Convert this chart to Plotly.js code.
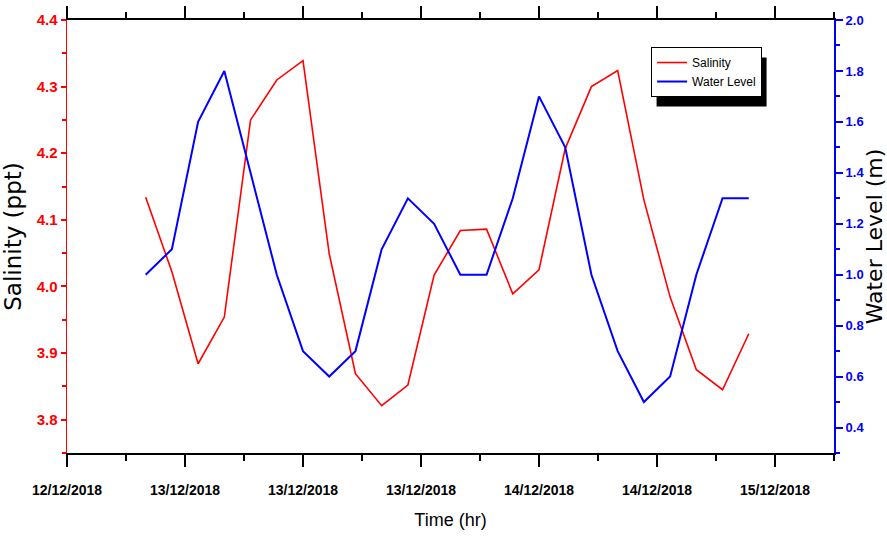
<!DOCTYPE html>
<html>
<head>
<meta charset="utf-8">
<script src="https://cdn.plot.ly/plotly-3.0.1.min.js"></script>
<style>html,body{margin:0;padding:0;background:#fff;}#chart{width:887px;height:547px;}</style>
</head>
<body>
<div id="chart"></div>
<script>
// Time in hours from the start of the axis (12/12/2018)
const timeHours = [9, 12, 15, 18, 21, 24, 27, 30, 33, 36, 39, 42, 45, 48, 51, 54, 57, 60, 63, 66, 69, 72, 75, 78];
const salinity = [4.134, 4.022, 3.884, 3.954, 4.250, 4.310, 4.339, 4.049, 3.869, 3.821, 3.852, 4.017,
                  4.084, 4.086, 3.989, 4.025, 4.207, 4.300, 4.324, 4.130, 3.984, 3.875, 3.845, 3.929];
const waterLevel = [1.0, 1.1, 1.6, 1.8, 1.4, 1.0, 0.7, 0.6, 0.7, 1.1, 1.3, 1.2,
                    1.0, 1.0, 1.3, 1.7, 1.5, 1.0, 0.7, 0.5, 0.6, 1.0, 1.3, 1.3];
const xTickVals = [0, 13.5, 27, 40.5, 54, 67.5, 81];
const xTickText = ['12/12/2018', '13/12/2018', '13/12/2018', '13/12/2018', '14/12/2018', '14/12/2018', '15/12/2018'];

const narrow = '"Liberation Sans Narrow", "Arial Narrow", "Liberation Sans", Arial, sans-serif';
const wide = '"DejaVu Sans", Verdana, sans-serif';

const traces = [
  {x: timeHours, y: salinity, name: 'Salinity', type: 'scatter', mode: 'lines',
   line: {color: '#ff0000', width: 1.6}, yaxis: 'y'},
  {x: timeHours, y: waterLevel, name: 'Water Level', type: 'scatter', mode: 'lines',
   line: {color: '#0000ff', width: 2}, yaxis: 'y2'}
];

const layout = {
  width: 887, height: 547,
  margin: {l: 67, r: 53, t: 20, b: 94},
  paper_bgcolor: '#ffffff', plot_bgcolor: '#ffffff',
  showlegend: true,
  legend: {x: 0.7615, y: 0.9376, xanchor: 'left', yanchor: 'top',
           bgcolor: '#ffffff', bordercolor: '#000000', borderwidth: 1,
           font: {family: narrow, size: 12, color: '#000'},
           tracegroupgap: 0, itemwidth: 30},
  xaxis: {
    range: [0, 87.75], tickmode: 'array', tickvals: xTickVals, ticktext: xTickText,
    showgrid: false, zeroline: false,
    showline: true, linecolor: '#000', linewidth: 2, mirror: 'ticks',
    ticks: 'outside', ticklen: 12, tickwidth: 1.5, tickcolor: '#000',
    ticklabelstandoff: 11,
    minor: {tickmode: 'linear', tick0: 0, dtick: 6.75, ticks: 'outside', ticklen: 6, tickcolor: '#000', tickwidth: 1.5},
    tickfont: {family: narrow, size: 14, color: '#000', weight: 'bold'},
    title: {text: 'Time (hr)', font: {family: narrow, size: 18, color: '#000'}, standoff: 17}
  },
  yaxis: {
    range: [3.75, 4.4], tickmode: 'linear', tick0: 3.8, dtick: 0.1, tickformat: '.1f',
    showgrid: false, zeroline: false,
    showline: true, linecolor: '#ff0000', linewidth: 1.5,
    ticks: 'outside', ticklen: 5, tickwidth: 2, tickcolor: '#ff0000',
    minor: {tickmode: 'linear', tick0: 3.75, dtick: 0.05, ticks: 'outside', ticklen: 4, tickcolor: '#ff0000', tickwidth: 2},
    tickfont: {family: narrow, size: 15, color: '#ff0000', weight: 'bold'},
    title: {text: 'Salinity (ppt)', font: {family: wide, size: 23, color: '#000'}, standoff: 8}
  },
  yaxis2: {
    range: [0.3, 2.0], overlaying: 'y', side: 'right',
    tickmode: 'linear', tick0: 0.4, dtick: 0.2, tickformat: '.1f',
    showgrid: false, zeroline: false,
    showline: true, linecolor: '#0000ff', linewidth: 2,
    ticks: 'outside', ticklen: 7, tickwidth: 2, tickcolor: '#0000ff',
    minor: {tickmode: 'linear', tick0: 0.3, dtick: 0.1, ticks: 'outside', ticklen: 4, tickcolor: '#0000ff', tickwidth: 2},
    tickfont: {family: narrow, size: 13, color: '#0000ff', weight: 'bold'},
    title: {text: 'Water Level (m)', font: {family: wide, size: 22, color: '#000'}, standoff: 3}
  },
  shapes: []
};

Plotly.newPlot('chart', traces, layout, {displayModeBar: false, staticPlot: true}).then(function (gd) {
  // drop shadow behind the legend box (offset right and down)
  const bg = gd.querySelector('.legend .bg');
  if (!bg) return;
  const r = bg.getBoundingClientRect();
  const c = gd.getBoundingClientRect();
  const s = gd._fullLayout._size;
  const left = r.left - c.left, top = r.top - c.top;
  const dx = 5, dy = 10;
  const x0 = (left + dx - s.l) / s.w, x1 = (left + r.width + dx - s.l) / s.w;
  const y1 = 1 - (top + dy - s.t) / s.h, y0 = 1 - (top + r.height + dy - s.t) / s.h;
  return Plotly.relayout(gd, {shapes: [{type: 'rect', xref: 'paper', yref: 'paper', layer: 'above',
    x0: x0, x1: x1, y0: y0, y1: y1, fillcolor: '#000000', line: {width: 0}}]});
});
</script>
</body>
</html>
